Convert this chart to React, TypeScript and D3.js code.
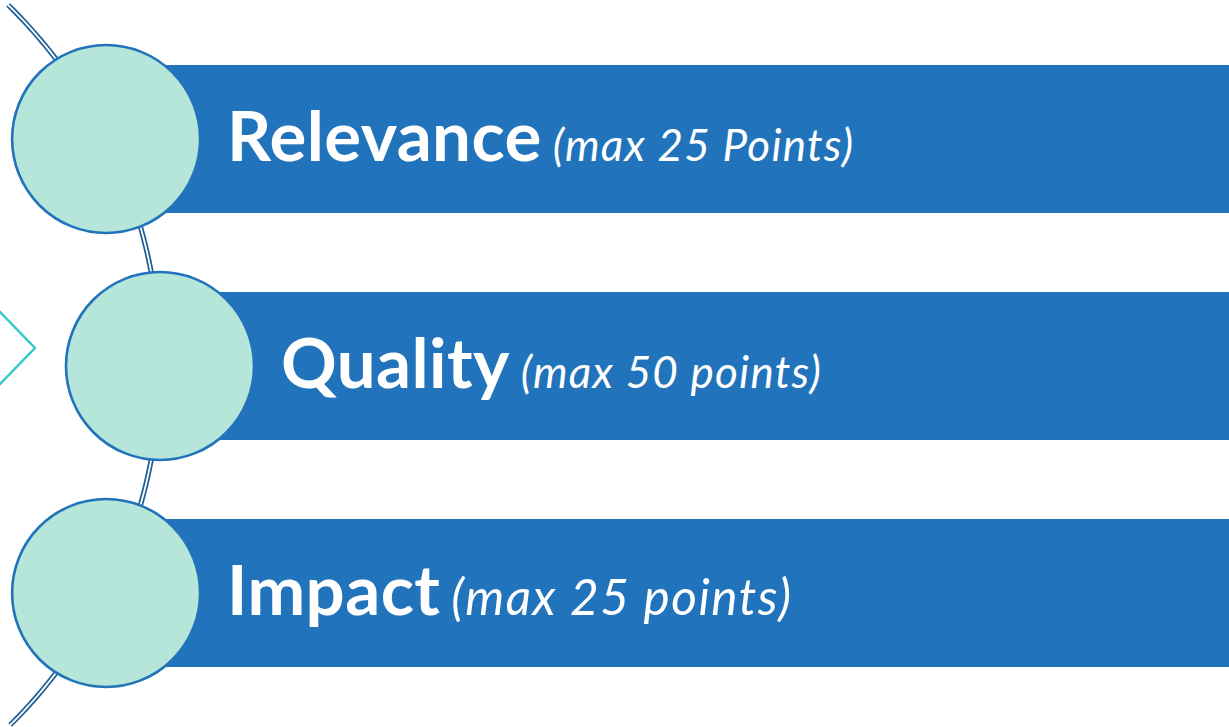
import React from "react";
import * as d3 from "d3";

const categories = ["Relevance", "Quality", "Impact"];
const notes = ["(max 25 Points)", "(max 50 points)", "(max 25 points)"];
const maxPoints = [25, 50, 25];

const W = 1229;
const H = 727;

export default function App() {
  const y = d3
    .scaleBand<string>()
    .domain(categories)
    .range([65, 667])
    .paddingInner(0.348)
    .paddingOuter(0);

  // note font sizes per row (style only)
  const noteSize = [44, 44, 49.5];
  const noteSpacing = [1.2, 1.2, 1.5];

  // big background arc
  const arcCx = -345;
  const arcCy = 366;
  const arcR = 505;
  const xOnArc = (yy: number) => arcCx + Math.sqrt(arcR * arcR - (yy - arcCy) * (yy - arcCy));
  const a0 = Math.asin((5 - arcCy) / arcR);
  const a1 = Math.asin((725 - arcCy) / arcR);
  const arcPts: [number, number][] = d3.range(0, 101).map((i) => {
    const a = a0 + ((a1 - a0) * i) / 100;
    return [arcCx + arcR * Math.cos(a), arcCy + arcR * Math.sin(a)];
  });
  const arcPath = d3.line()(arcPts) || "";

  const circleR = 94;

  return (
    <svg
      width={W}
      height={H}
      style={{ position: "fixed", left: 0, top: 0, background: "#ffffff" }}
    >
      <rect x={0} y={0} width={W} height={H} fill="#ffffff" />
      {/* chevron on the left */}
      <polyline
        points="-2,310 35,348 -2,386"
        fill="none"
        stroke="#36c8c9"
        strokeWidth={2.4}
      />
      {/* bars */}
      {categories.map((c) => {
        const cy = (y(c) as number) + y.bandwidth() / 2;
        const cx = xOnArc(cy);
        return (
          <rect
            key={"bar-" + c}
            x={cx}
            y={y(c)}
            width={W - cx + 2}
            height={y.bandwidth()}
            fill="#2174bb"
          />
        );
      })}
      {/* double-line arc */}
      <path d={arcPath} fill="none" stroke="#1d5d93" strokeWidth={5.2} />
      <path d={arcPath} fill="none" stroke="#ffffff" strokeWidth={1.8} />
      {/* circles */}
      {categories.map((c) => {
        const cy = (y(c) as number) + y.bandwidth() / 2;
        const cx = xOnArc(cy);
        return (
          <circle
            key={"c-" + c}
            cx={cx}
            cy={cy}
            r={circleR}
            fill="#b6e5d9"
            stroke="#2173ba"
            strokeWidth={2.6}
          />
        );
      })}
      {/* labels */}
      {categories.map((c, i) => {
        const cy = (y(c) as number) + y.bandwidth() / 2;
        const cx = xOnArc(cy);
        return (
          <text
            key={"t-" + c}
            x={cx + circleR + 27}
            y={cy + 22}
            fill="#ffffff"
            data-max={maxPoints[i]}
            style={{ fontFamily: "Lato, 'Open Sans', sans-serif" }}
          >
            <tspan fontWeight={700} fontSize={69} letterSpacing={0.4}>
              {c}
            </tspan>
            <tspan
              fontStyle="italic"
              fontWeight={400}
              fontSize={noteSize[i]}
              letterSpacing={noteSpacing[i]}
              dx={11}
            >
              {notes[i]}
            </tspan>
          </text>
        );
      })}
    </svg>
  );
}
